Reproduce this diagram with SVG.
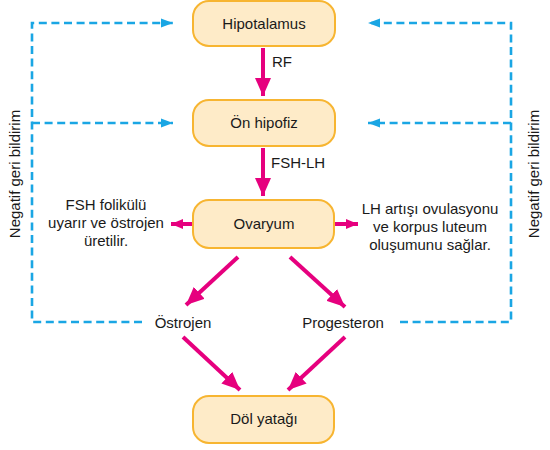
<svg xmlns="http://www.w3.org/2000/svg" width="550" height="450" viewBox="0 0 550 450">
<defs>
<style>
.box{fill:#FEEBC8;stroke:#F7B531;stroke-width:2}
.t{font-family:"Liberation Sans",Arial,sans-serif;font-size:15px;fill:#1a1a1a}
.m{text-anchor:middle}
.pk{stroke:#E6007E;stroke-width:4;fill:none}
.bl{stroke:#1AA6E4;stroke-width:2.6;fill:none;stroke-dasharray:8 4.6}
</style>
<marker id="ap" markerUnits="userSpaceOnUse" markerWidth="20" markerHeight="16" refX="18" refY="8" orient="auto" viewBox="0 0 20 16">
<path d="M0,0 L18,8 L0,16 Z" fill="#E6007E"/>
</marker>
<marker id="aps" markerUnits="userSpaceOnUse" markerWidth="14" markerHeight="12" refX="12" refY="6" orient="auto" viewBox="0 0 14 12">
<path d="M0,1 L12,6 L0,11 Z" fill="#E6007E"/>
</marker>
<marker id="ab" markerUnits="userSpaceOnUse" markerWidth="14" markerHeight="10" refX="12" refY="5" orient="auto" viewBox="0 0 14 10">
<path d="M0,0.5 L12,5 L0,9.5 Z" fill="#1AA6E4"/>
</marker>
</defs>
<g id="connectors">
<line class="pk" x1="263" y1="48" x2="263" y2="96" marker-end="url(#ap)"/>
<line class="pk" x1="263" y1="148" x2="263" y2="196" marker-end="url(#ap)"/>
<line class="pk" x1="193" y1="224" x2="171" y2="224" marker-end="url(#aps)"/>
<line class="pk" x1="333" y1="224" x2="358" y2="224" marker-end="url(#aps)"/>
<line class="pk" x1="238" y1="257" x2="186" y2="305" marker-end="url(#ap)"/>
<line class="pk" x1="290" y1="257" x2="345" y2="307" marker-end="url(#ap)"/>
<line class="pk" x1="183" y1="337" x2="240" y2="390" marker-end="url(#ap)"/>
<line class="pk" x1="345" y1="337" x2="288" y2="390" marker-end="url(#ap)"/>
<polyline class="bl" points="142,322 32,322 32,23 173,23" marker-end="url(#ab)"/>
<line class="bl" x1="32" y1="123" x2="173" y2="123" marker-end="url(#ab)"/>
<polyline class="bl" points="400,322 511,322 511,23 368,23" marker-end="url(#ab)"/>
<line class="bl" x1="511" y1="123" x2="368" y2="123" marker-end="url(#ab)"/>
<text class="t" x="272" y="67">RF</text>
<text class="t" x="271" y="168">FSH-LH</text>
<text class="t m" transform="translate(20,174) rotate(-90)">Negatif geri bildirim</text>
<text class="t m" transform="translate(539,174) rotate(-90)">Negatif geri bildirim</text>
</g>
<g id="hipotalamus"><rect class="box" x="193" y="1" width="142" height="45" rx="16"/><text class="t m" x="264" y="29">Hipotalamus</text></g>
<g id="onhipofiz"><rect class="box" x="193" y="100" width="142" height="46" rx="16"/><text class="t m" x="264" y="128">Ön hipofiz</text></g>
<g id="ovaryum"><rect class="box" x="193" y="200" width="141" height="48" rx="16"/><text class="t m" x="264" y="229">Ovaryum</text></g>
<g id="dolyatagi"><rect class="box" x="193" y="396" width="141" height="47" rx="16"/><text class="t m" x="264" y="424">Döl yatağı</text></g>
<g id="fsh-note"><text class="t m" x="106" y="210">FSH folikülü</text><text class="t m" x="106" y="228">uyarır ve östrojen</text><text class="t m" x="106" y="246">üretilir.</text></g>
<g id="lh-note"><text class="t m" x="430" y="214">LH artışı ovulasyonu</text><text class="t m" x="430" y="232">ve korpus luteum</text><text class="t m" x="430" y="250">oluşumunu sağlar.</text></g>
<g id="ostrojen"><text class="t m" x="183" y="328">Östrojen</text></g>
<g id="progesteron"><text class="t m" x="343" y="328">Progesteron</text></g>
</svg>
